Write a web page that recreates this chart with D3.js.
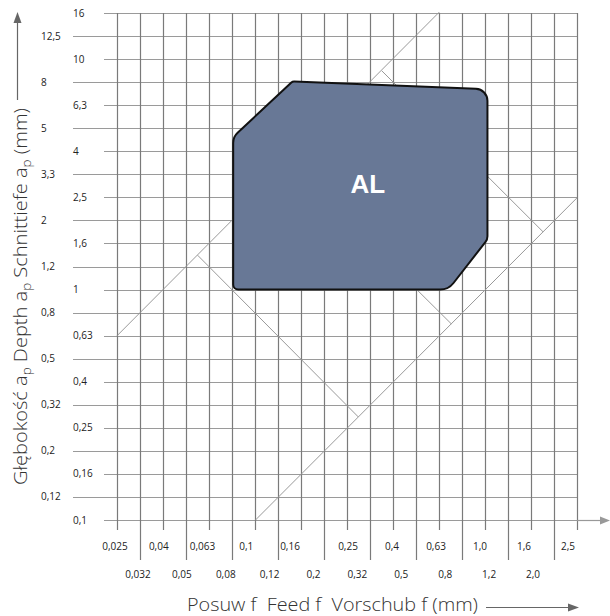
<!DOCTYPE html>
<html><head><meta charset="utf-8">
<script src="https://cdn.jsdelivr.net/npm/d3@7"></script>
<style>
body{margin:0;background:#fff}
svg{display:block}
text{font-family:"Open Sans","DejaVu Sans",sans-serif}
</style>
</head><body>
<svg id="c" width="610" height="616"></svg>
<script>
// ---- data ----
const xTickLabels = ["0,025","0,032","0,04","0,05","0,063","0,08","0,1","0,12","0,16","0,2","0,25","0,32","0,4","0,5","0,63","0,8","1,0","1,2","1,6","2,0","2,5"];
const yTickLabels = ["16","12,5","10","8","6,3","5","4","3,3","2,5","2","1,6","1,2","1","0,8","0,63","0,5","0,4","0,32","0,25","0,2","0,16","0,12","0,1"];
const regionName = "AL";
const regionFeed  = [0.08, 0.08, 0.145, 1.02, 1.02, 0.69];
const regionDepth = [1.0, 4.6, 8.0, 7.4, 1.65, 1.0];
const guideFeed  = [[0.025,0.63],[0.1,2.5],[0.056,0.28],[0.14,0.71],[0.354,1.78]];
const guideDepth = [[0.63,16],[0.1,2.5],[1.41,0.28],[3.55,0.71],[8.9,1.78]];

// ---- layout ----
const svg = d3.select("#c");
const L = 117, R = 577, T = 13, B = 520;
const x = d3.scaleLog().domain([0.025, 2.5]).range([L, R]);
const y = d3.scaleLog().domain([0.1, 15.85]).range([B, T]);
const xg = d3.scalePoint().domain(xTickLabels).range([L, R]);
const yg = d3.scalePoint().domain(yTickLabels).range([T, B]);

// horizontal grid
svg.append("g").selectAll("line").data(yTickLabels).join("line")
  .attr("x1", (d,i) => i % 2 === 0 ? 104 : 73)
  .attr("x2", R)
  .attr("y1", d => Math.round(yg(d)) + 0.5)
  .attr("y2", d => Math.round(yg(d)) + 0.5)
  .attr("stroke", "#9a9a9a").attr("stroke-width", 1.2);

// vertical grid
svg.append("g").selectAll("line").data(xTickLabels).join("line")
  .attr("x1", d => Math.round(xg(d)) + 0.5)
  .attr("x2", d => Math.round(xg(d)) + 0.5)
  .attr("y1", T)
  .attr("y2", (d,i) => i % 2 === 0 ? 530 : 560)
  .attr("stroke", "#7a7a7a").attr("stroke-width", 1.2);

// diagonal guide lines
svg.append("g").selectAll("line").data(guideFeed).join("line")
  .attr("x1", (d) => x(d[0])).attr("x2", d => x(d[1]))
  .attr("y1", (d,i) => y(guideDepth[i][0])).attr("y2", (d,i) => y(guideDepth[i][1]))
  .attr("stroke", "#999").attr("stroke-width", 1);

// x axis arrow
svg.append("line").attr("x1", R).attr("x2", 601).attr("y1", B + 0.5).attr("y2", B + 0.5)
  .attr("stroke", "#999").attr("stroke-width", 1.2);
svg.append("path").attr("d", `M600,${B-3.5}L610,${B+0.5}L600,${B+4.5}Z`).attr("fill", "#999");

// region
const radii = [5, 14, 4, 12, 9, 17];
const pts = regionFeed.map((f,i) => [x(f), y(regionDepth[i])]);
const p = d3.path();
const n = pts.length;
const mid = [(pts[n-1][0] + pts[0][0]) / 2, (pts[n-1][1] + pts[0][1]) / 2];
p.moveTo(mid[0], mid[1]);
for (let i = 0; i < n; i++) {
  const a = pts[i], b = pts[(i+1) % n];
  p.arcTo(a[0], a[1], b[0], b[1], radii[i]);
}
p.closePath();
svg.append("path").attr("d", p.toString())
  .attr("fill", "#687896").attr("stroke", "#111").attr("stroke-width", 2);

svg.append("text").attr("x", d3.mean(pts, d => d[0]) + 4).attr("y", 193)
  .attr("text-anchor", "middle").attr("fill", "#fff")
  .style("font-family", "'Liberation Sans', Arial, sans-serif")
  .attr("font-weight", "bold").attr("font-size", 26).text(regionName);

// y tick labels
svg.append("g").selectAll("text").data(yTickLabels).join("text")
  .attr("x", (d,i) => i % 2 === 0 ? 73 : 41)
  .attr("y", d => yg(d))
  .attr("dy", "0.35em")
  .attr("font-size", 10).attr("fill", "#222").text(d => d);

// x tick labels
const topLab = d3.scaleLinear().domain([0, 8, 10, 20]).range([115, 290, 348, 568]);
const botLab = d3.scaleLinear().domain([1, 19]).range([138, 533]);
svg.append("g").selectAll("text").data(xTickLabels).join("text")
  .attr("x", (d,i) => i % 2 === 0 ? topLab(i) : botLab(i))
  .attr("y", (d,i) => i % 2 === 0 ? 546 : 574)
  .attr("dy", "0.35em").attr("text-anchor", "middle")
  .attr("font-size", 10).attr("fill", "#222").text(d => d);

// x title
svg.append("text").attr("x", 187).attr("y", 611)
  .attr("font-size", 18).attr("font-weight", 300).attr("fill", "#333")
  .attr("textLength", 291).attr("lengthAdjust", "spacingAndGlyphs")
  .style("white-space", "pre").text("Posuw f  Feed f  Vorschub f (mm)");
svg.append("line").attr("x1", 486).attr("x2", 570).attr("y1", 607.5).attr("y2", 607.5)
  .attr("stroke", "#666").attr("stroke-width", 1.2);
svg.append("path").attr("d", "M568,603.5L579,607.5L568,611.5Z").attr("fill", "#666");

// y title
const yt = svg.append("text").attr("transform", "translate(27,485) rotate(-90)")
  .attr("font-size", 18).attr("font-weight", 300).attr("fill", "#333")
  .attr("textLength", 377).attr("lengthAdjust", "spacingAndGlyphs")
  .style("white-space", "pre");
const parts = [["Głębokość a",""],["p",  "sub"],[" Depth a",""],["p","sub"],[" Schnittiefe a",""],["p","sub"],[" (mm)",""]];
parts.forEach(([t, k], i) => {
  const s = yt.append("tspan").text(t);
  if (k === "sub") s.attr("font-size", 12).attr("dy", 4);
  else if (i > 0) s.attr("dy", -4);
});
svg.append("line").attr("x1", 17.5).attr("x2", 17.5).attr("y1", 100).attr("y2", 22)
  .attr("stroke", "#666").attr("stroke-width", 1.2);
svg.append("path").attr("d", "M13.5,23L17.5,12L21.5,23Z").attr("fill", "#666");
</script>
</body></html>
